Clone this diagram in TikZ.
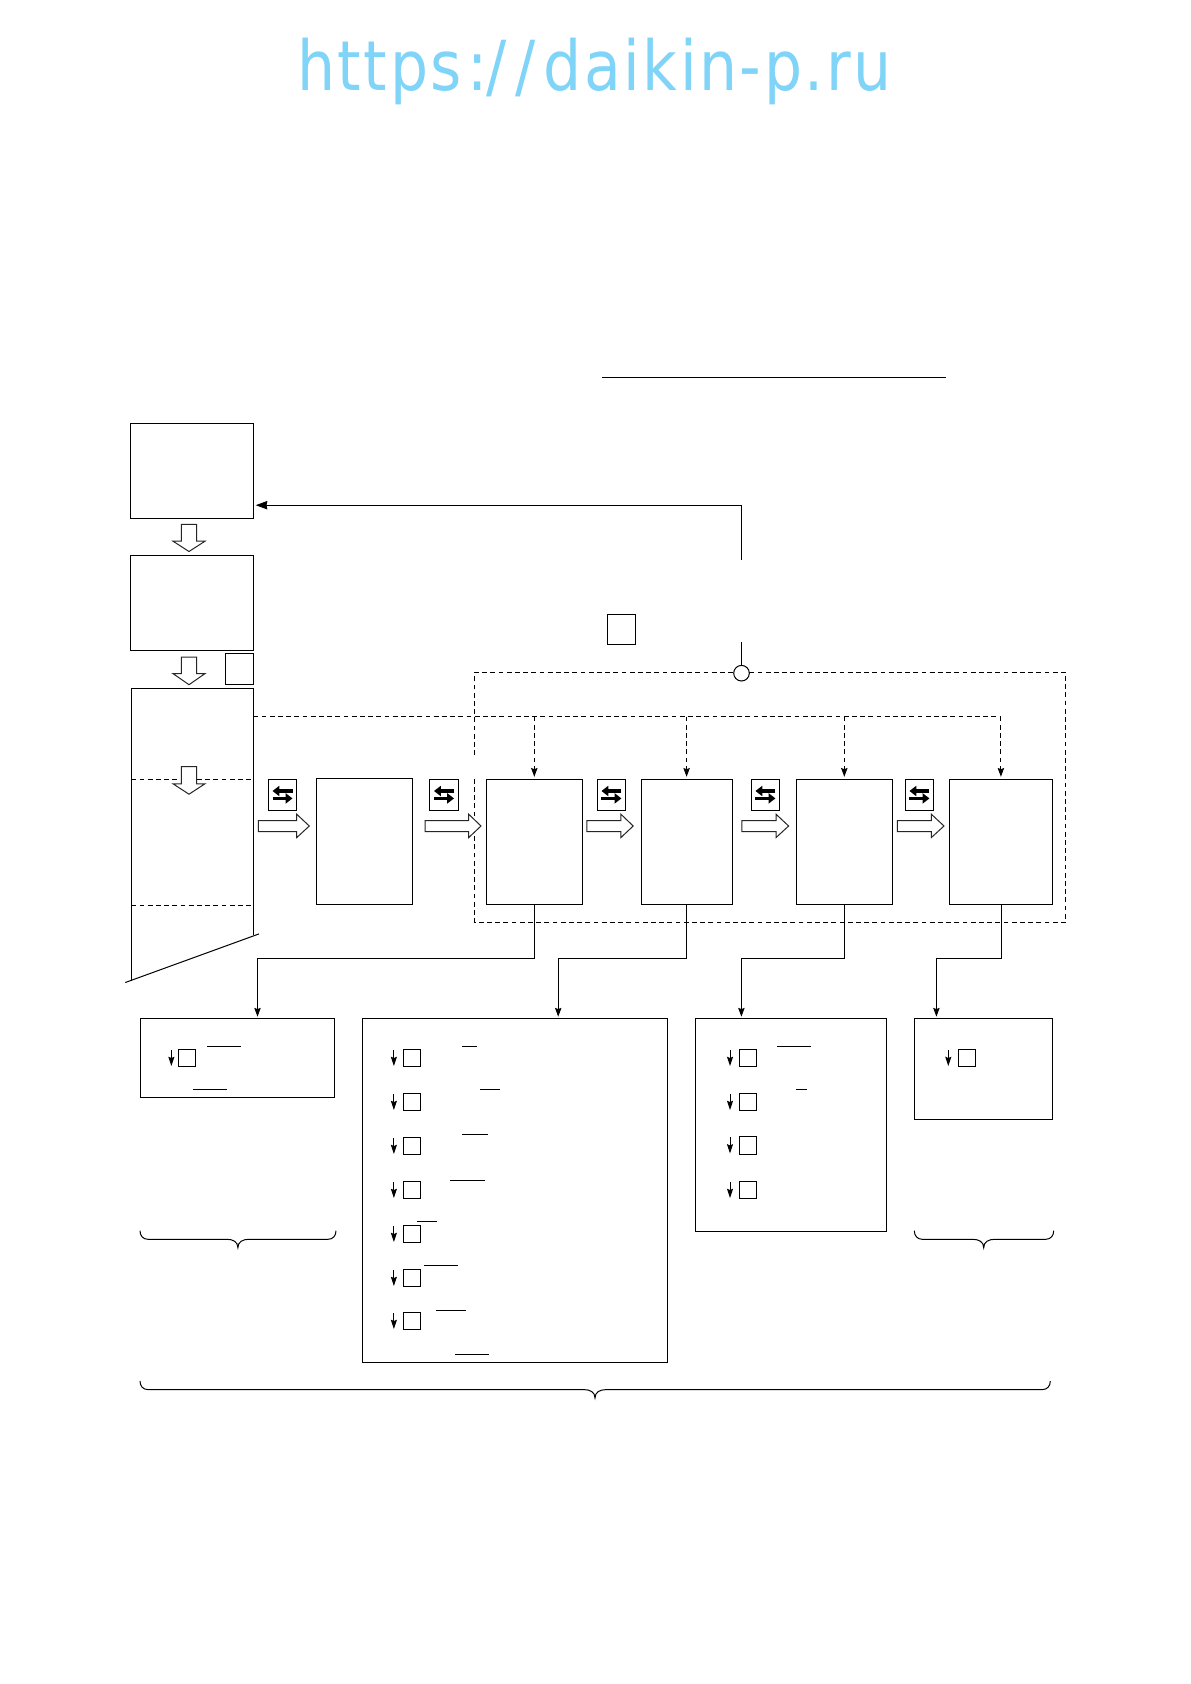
\documentclass[tikz,border=0pt]{standalone}
\usepackage{fontspec}
\usepackage{graphicx}
\usetikzlibrary{arrows.meta}
\newfontfamily\wmfont[LetterSpace=4.2]{DejaVu Sans}
\definecolor{wmblue}{HTML}{7FD4F8}
\tikzset{
  lw/.style={line width=0.5pt,draw=black},
  boxst/.style={lw,fill=white,rectangle,inner sep=0pt,outer sep=0pt},
  conn/.style={lw,-{Stealth[length=4.4pt,width=3.2pt,inset=0.6pt]}},
  bigtip/.style={lw,-{Stealth[length=5.8pt,width=4.2pt,inset=0.4pt]}},
  rowarr/.style={lw,-{Stealth[length=4.6pt,width=3pt,inset=0.6pt]}},
  dashst/.style={lw,dash pattern=on 2.4pt off 1.7pt},
  block/.style={line width=0.5pt,draw=black!85,fill=white,line join=miter},
  xch/.style={line width=1.6pt,black,-{Triangle[length=3.4pt,width=5pt]}},
  oline/.style={lw},
  bracest/.style={line width=0.5pt,draw=black}
}
\newcommand\mybox[5]{\node[boxst,minimum width={(#4-#2)*0.5pt},minimum height={(#5-#3)*0.5pt}] (#1) at ({(#2+#4)/2},{(#3+#5)/2}) {};}
% down block arrow: x-tip, y top, y head, y tip
\newcommand\downarr[4]{\draw[block] ({#1-7.6},#2) -- ({#1+7.6},#2) -- ({#1+7.6},#3) -- ({#1+16},#3) -- (#1,#4) -- ({#1-16},#3) -- ({#1-7.6},#3) -- cycle;}
% right block arrow: x start, x head, x tip
\newcommand\rightarr[3]{\draw[block] (#1,820.5) -- (#2,820.5) -- (#2,814.2) -- (#3,826) -- (#2,837.6) -- (#2,831.5) -- (#1,831.5) -- cycle;}
\newcommand\xicon[3]{\mybox{#1}{#2}{779.6}{#3}{810.5}
  \draw[xch] ({(#2+#3)/2+10},791) -- ({(#2+#3)/2-10},791);
  \draw[xch] ({(#2+#3)/2-10},798.4) -- ({(#2+#3)/2+10},798.4);}
% row: arrow x, square left, top y, name
\newcommand\rowitem[4]{\node[boxst,minimum width=8.7pt,minimum height=8.7pt] (#4) at ({#2+8.7},{#3+8.7}) {};
  \coordinate (#4a) at (#1,{#3+0.7}); \coordinate (#4b) at (#1,{#3+16.7}); \draw[rowarr] (#4a) -- (#4b);}
\newcommand\ol[3]{\draw[oline] (#1,#3) -- (#2,#3);}
\newcommand\mybrace[4]{\draw[bracest] (#1,#4) .. controls (#1,{#4+5}) and ({#1+3},{#4+8.6}) .. ({#1+8},{#4+8.6}) -- ({#2-11},{#4+8.6}) .. controls ({#2-5},{#4+8.6}) and (#2,{#4+11}) .. (#2,{#4+17}) .. controls (#2,{#4+11}) and ({#2+5},{#4+8.6}) .. ({#2+11},{#4+8.6}) -- ({#3-8},{#4+8.6}) .. controls ({#3-3},{#4+8.6}) and (#3,{#4+5}) .. (#3,#4);}
\begin{document}
\begin{tikzpicture}[x=0.5pt,y=-0.5pt]
\useasboundingbox[fill=white] (0,0) rectangle (1190,1684);

\node[anchor=base west,inner sep=0pt,text=wmblue] (wm) at (297,90.7) {\scalebox{0.87}[1]{\wmfont\fontsize{34.5}{40}\selectfont\hbox{https}\kern3.15pt\hbox{:}\kern-0.85pt\hbox{/}\kern5.45pt\hbox{/}\kern4.35pt\hbox{daikin-p.ru}}};

\ol{602.3}{946}{377.3}

% left column
\mybox{A}{130.7}{423.4}{253.3}{518}
\mybox{B}{130.7}{555.8}{253.3}{650.7}
\mybox{sq1}{225}{653.3}{253.3}{684}
\coordinate (t1) at (131.3,981);
\coordinate (t2) at (131.3,688.6);
\coordinate (t3) at (253.3,688.6);
\coordinate (t4) at (253.3,935);
\draw[lw,line join=miter] (t1) -- (t2) -- (t3) -- (t4);
\coordinate (s1) at (125.3,982.5);
\coordinate (s2) at (259,933.9);
\draw[lw] (s1) -- (s2);
\coordinate (d1a) at (131.3,779.6); \coordinate (d1b) at (253.3,779.6);
\coordinate (d2a) at (131.3,905.5); \coordinate (d2b) at (253.3,905.5);
\draw[dashst] (d1a) -- (d1b);
\draw[dashst] (d2a) -- (d2b);

% enclosure
\coordinate (e1) at (474.6,755);
\coordinate (e2) at (474.6,777);
\node[circle,lw,fill=white,minimum size=7.8pt,inner sep=0pt,outer sep=0pt] (jn) at (741.5,673.2) {};
\draw[dashst] (e1) -- (474.6,672.3) -- (jn.west |- 0,672.3);
\draw[dashst] (jn.east |- 0,672.3) -- (1065.4,672.3) -- (1065.4,922.3) -- (474.6,922.3) -- (e2);

% top feedback
\coordinate (fb1) at (741.5,560);
\coordinate (fb2) at (741.5,642.3);
\coordinate (fbt) at (255.7,505.2);
\draw[bigtip] (fb1) |- (fbt);
\draw[lw] (fb2) -- (jn.north);
\mybox{sq2}{607}{614.3}{635.6}{644.7}

% stage boxes
\mybox{C}{316.3}{778.9}{412}{904.8}
\mybox{D}{486.5}{779}{582.2}{904.7}
\mybox{E}{641.1}{779}{732.4}{904.7}
\mybox{F}{796.5}{779}{892.2}{904.7}
\mybox{G}{949.9}{779}{1052.3}{904.7}

% dashed distribution
\coordinate (hs) at (253.3,716.6);
\coordinate (h1) at (534.3,716.6);
\coordinate (h2) at (686.6,716.6);
\coordinate (h3) at (844.3,716.6);
\coordinate (h4) at (1000.9,716.6);
\draw[dashst] (hs) -- (h4);
\coordinate (p1) at (534.3,776.8);
\coordinate (p2) at (686.6,776.8);
\coordinate (p3) at (844.3,776.8);
\coordinate (p4) at (1000.9,776.8);
\foreach \i in {1,2,3,4}{\draw[dashst,-{Stealth[length=4.4pt,width=3.2pt,inset=0.6pt]}] (h\i) -- (p\i);}

% block arrows
\downarr{189}{524.4}{541.2}{551.5}
\downarr{189}{657.2}{673.6}{684.7}
\downarr{189}{766.6}{783.8}{794.2}
\rightarr{258.3}{296.7}{309.3}
\rightarr{425}{468.7}{481}
\rightarr{586.9}{620.9}{633.2}
\rightarr{741.9}{776}{788.6}
\rightarr{897.3}{931.3}{944}

% exchange icons
\xicon{ic1}{268.3}{296.7}
\xicon{ic2}{429.3}{458.7}
\xicon{ic3}{597.2}{625.7}
\xicon{ic4}{751.4}{779.5}
\xicon{ic5}{905.2}{933.7}

% lower boxes
\mybox{H}{140}{1018}{334.6}{1097.7}
\mybox{I}{362.5}{1018.3}{667.5}{1362.3}
\mybox{J}{695.3}{1018}{886}{1231}
\mybox{K}{914.3}{1018.3}{1052.7}{1119.3}

% connectors
\coordinate (tH) at (257.5,1016.7);
\coordinate (tI) at (558.2,1016.7);
\coordinate (tJ) at (741.4,1016.7);
\coordinate (tK) at (936.4,1016.7);
\draw[conn] (D.south) -- (D.south |- 0,958.3) -| (tH);
\draw[conn] (E.south) -- (E.south |- 0,958.3) -| (tI);
\draw[conn] (F.south) -- (F.south |- 0,958.3) -| (tJ);
\draw[conn] (G.south) -- (G.south |- 0,958.3) -| (tK);

% rows
\rowitem{171.4}{178.2}{1049.3}{ra}
\foreach \n/\yy in {1/1049.3,2/1093.3,3/1137.3,4/1181.3,5/1225.3,6/1269.3,7/1312.3}{\rowitem{393.9}{403.2}{\yy}{rb\n}}
\foreach \n/\yy in {1/1049.3,2/1093.3,3/1136.7,4/1181.3}{\rowitem{730}{739.3}{\yy}{rc\n}}
\rowitem{948.3}{958.3}{1049.3}{rd}

% overlines
\ol{207.1}{240.7}{1046.7}
\ol{192.9}{227.1}{1089.3}
\ol{462.1}{477.1}{1046.7}
\ol{480}{500}{1089.3}
\ol{462.1}{487.9}{1134.3}
\ol{450}{485}{1180.3}
\ol{417.1}{437.1}{1221.3}
\ol{423.9}{457.9}{1265.3}
\ol{436.1}{466.1}{1310.3}
\ol{455}{488.9}{1354.3}
\ol{777}{811}{1046.7}
\ol{796}{807}{1089.3}

% braces
\mybrace{140}{237.9}{336}{1230.7}
\mybrace{914.3}{983.7}{1053.7}{1230.7}
\mybrace{140}{595}{1050.3}{1381}
\end{tikzpicture}
\end{document}
